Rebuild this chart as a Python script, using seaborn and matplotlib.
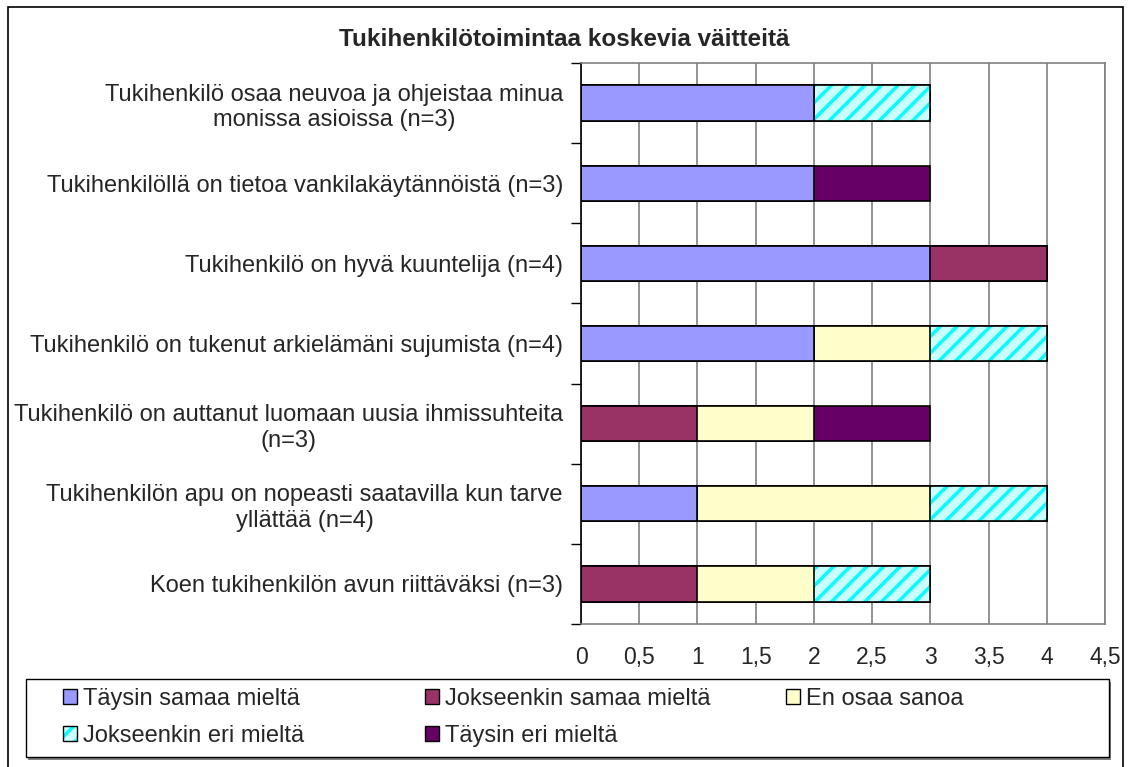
import numpy as np
import pandas as pd
import matplotlib
matplotlib.use('Agg')
import matplotlib.pyplot as plt
import seaborn as sns
from matplotlib.patches import Patch, Rectangle
from matplotlib.ticker import FixedLocator

# Väitteet (ylhäältä alas)
vaitteet = [
    'Tukihenkilö osaa neuvoa ja ohjeistaa minua\nmonissa asioissa (n=3)',
    'Tukihenkilöllä on tietoa vankilakäytännöistä (n=3)',
    'Tukihenkilö on hyvä kuuntelija (n=4)',
    'Tukihenkilö on tukenut arkielämäni sujumista (n=4)',
    'Tukihenkilö on auttanut luomaan uusia ihmissuhteita\n(n=3)',
    'Tukihenkilön apu on nopeasti saatavilla kun tarve\nyllättää (n=4)',
    'Koen tukihenkilön avun riittäväksi (n=3)',
]
taysin_samaa = [2, 2, 3, 2, 0, 1, 0]
jokseenkin_samaa = [0, 0, 1, 0, 1, 0, 1]
en_osaa = [0, 0, 0, 1, 1, 2, 1]
jokseenkin_eri = [1, 0, 0, 1, 0, 1, 1]
taysin_eri = [0, 1, 0, 0, 1, 0, 0]

sarjat = ['Täysin samaa mieltä', 'Jokseenkin samaa mieltä', 'En osaa sanoa',
          'Jokseenkin eri mieltä', 'Täysin eri mieltä']
x_tikit = [0, 0.5, 1, 1.5, 2, 2.5, 3, 3.5, 4, 4.5]
x_tikki_tekstit = ['0', '0,5', '1', '1,5', '2', '2,5', '3', '3,5', '4', '4,5']
otsikko = 'Tukihenkilötoimintaa koskevia väitteitä'

varit = ['#9999FF', '#993366', '#FFFFCC', '#CCFFFF', '#660066']
viiva_cyan = '#00FFFF'

df = pd.DataFrame({'Väite': vaitteet,
                   sarjat[0]: taysin_samaa,
                   sarjat[1]: jokseenkin_samaa,
                   sarjat[2]: en_osaa,
                   sarjat[3]: jokseenkin_eri,
                   sarjat[4]: taysin_eri})
kumul = df[sarjat].cumsum(axis=1)
kumul['Väite'] = df['Väite']

sns.set_style('white')
plt.rcParams['font.family'] = ['Liberation Sans', 'DejaVu Sans']
plt.rcParams['hatch.linewidth'] = 2.5

W, H = 1131, 767
fig = plt.figure(figsize=(W / 100, H / 100), dpi=100)
ax = fig.add_axes([581 / W, 1 - 624 / H, (1105 - 581) / W, (624 - 63) / H])

# Pinotut palkit: piirretään kumulatiiviset summat lopusta alkuun
for i in reversed(range(len(sarjat))):
    s = sarjat[i]
    if i == 3:
        sns.barplot(data=kumul, x=s, y='Väite', orient='h', color=varit[i],
                    width=0.44, hatch='//', edgecolor=viiva_cyan, linewidth=0,
                    saturation=1, ax=ax, errorbar=None)
        sns.barplot(data=kumul, x=s, y='Väite', orient='h', color='black',
                    fill=False, width=0.44, linewidth=1.2, ax=ax, errorbar=None)
    else:
        sns.barplot(data=kumul, x=s, y='Väite', orient='h', color=varit[i],
                    width=0.44, edgecolor='black', linewidth=1.2,
                    saturation=1, ax=ax, errorbar=None)

ax.set_xlim(0, 4.5)
ax.set_ylim(6.5, -0.5)
ax.set_xticks(x_tikit)
ax.set_xticklabels(x_tikki_tekstit)
ax.set_xlabel('')
ax.set_ylabel('')
ax.set_axisbelow(True)
ax.xaxis.grid(True, color='#808080', linewidth=1.2)
ax.yaxis.grid(False)

ax.yaxis.set_minor_locator(FixedLocator(np.arange(-0.5, 7, 1)))
ax.tick_params(axis='y', which='major', length=0, pad=13, labelsize=17)
ax.tick_params(axis='y', which='minor', length=7, width=1, color='black', left=True)
ax.tick_params(axis='x', which='major', length=0, pad=16, labelsize=16.5)
for lab in ax.get_yticklabels():
    lab.set_multialignment('center')

for k in ['top', 'right', 'bottom']:
    ax.spines[k].set_color('#808080')
    ax.spines[k].set_linewidth(1.2)
ax.spines['left'].set_color('black')
ax.spines['left'].set_linewidth(1.2)

fig.text(0.4987, 1 - 39 / H, otsikko, ha='center', va='center',
         fontweight='bold', fontsize=17.5)

# Selitteen kehys ja varjo
fig.add_artist(Rectangle((28 / W, 1 - 760 / H), 1083 / W, 78 / H,
                         transform=fig.transFigure, facecolor='#808080',
                         edgecolor='none', zorder=1))
fig.add_artist(Rectangle((26 / W, 1 - 757 / H), 1083 / W, 78 / H,
                         transform=fig.transFigure, facecolor='white',
                         edgecolor='black', linewidth=1, zorder=2))

# Selite: kolme saraketta
kahvat = []
for i in range(len(sarjat)):
    if i == 3:
        kahvat.append((Patch(facecolor=varit[i], hatch='//', edgecolor=viiva_cyan, linewidth=0),
                       Patch(facecolor='none', edgecolor='black', linewidth=1)))
    else:
        kahvat.append(Patch(facecolor=varit[i], edgecolor='black', linewidth=1))

sarakkeet = [[0, 3], [1, 4], [2]]
sarake_x = [63, 425, 786]
for idx, x0 in zip(sarakkeet, sarake_x):
    leg = fig.legend([kahvat[j] for j in idx], [sarjat[j] for j in idx],
                     loc='upper left', bbox_to_anchor=(x0 / W, 1 - 688 / H),
                     frameon=False, fontsize=17, handlelength=0.6,
                     handleheight=0.6, handletextpad=0.25, borderpad=0,
                     borderaxespad=0, labelspacing=0.62)
    leg.set_zorder(5)

# Kuvan kehys
fig.add_artist(Rectangle((8 / W, -0.05), (1123 - 8) / W, 1.05 - 7 / H,
                         transform=fig.transFigure, fill=False,
                         edgecolor='black', linewidth=1.2))

fig.savefig('out.png', dpi=100)
